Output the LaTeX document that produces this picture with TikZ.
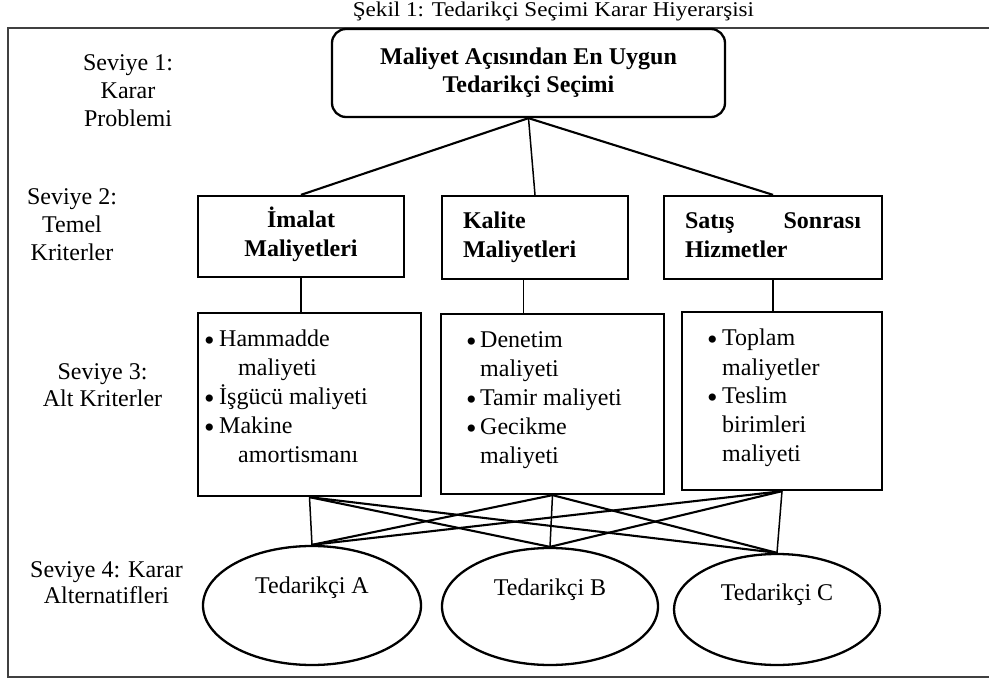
\documentclass[tikz,border=0pt]{standalone}
\usepackage{fontspec}
\setmainfont{Liberation Serif}
\usetikzlibrary{shapes.geometric,calc}
\newcommand{\bul}[1]{\makebox[#1][l]{\raisebox{-3.5pt}{\fontsize{30}{29}\selectfont\textbullet}}}
\begin{document}
\begin{tikzpicture}[x=1pt,y=-1pt,
  every node/.style={font=\fontsize{24}{29}\selectfont},
  lbl/.style={anchor=base, inner sep=0pt},
  topbox/.style={draw, line width=2.3pt, rounded corners=14pt, align=center,
     font=\bfseries\fontsize{24}{28}\selectfont, minimum width=393pt, minimum height=88pt},
  crit/.style={draw, line width=2.3pt, inner xsep=21pt, inner ysep=0pt,
     font=\bfseries\fontsize{24}{29}\selectfont},
  subbox/.style={draw, line width=2.3pt, inner sep=0pt},
  listtext/.style={anchor=base west, inner sep=0pt},
  alt/.style={draw, ellipse, line width=2.3pt, inner sep=0pt, text height=16pt},
  thinline/.style={line width=1.5pt},
  thickline/.style={line width=2.1pt}]
\useasboundingbox (0,0) rectangle (989,679);
\clip (0,0) rectangle (989,679);

% frame and title
\draw[line width=2.4pt, black!75] (8,28) rectangle (1010,677);
\node[lbl, font=\fontsize{21}{24}\selectfont] (title) at (553.5,17)
  {\scalebox{1.1}[1]{Şekil 1: Tedarikçi Seçimi Karar Hiyerarşisi}};

% level labels
\node[lbl, font=\fontsize{24}{28}\selectfont] (l1) at (128,71)
  {\begin{tabular}[t]{@{}c@{}}Seviye 1:\\Karar\\Problemi\end{tabular}};
\node[lbl, font=\fontsize{24}{28}\selectfont] (l2) at (72,205)
  {\begin{tabular}[t]{@{}c@{}}Seviye 2:\\Temel\\Kriterler\end{tabular}};
\node[lbl, font=\fontsize{24}{27}\selectfont] (l3) at (102.5,380)
  {\begin{tabular}[t]{@{}c@{}}Seviye 3:\\Alt Kriterler\end{tabular}};
\node[lbl, font=\fontsize{24}{26}\selectfont] (l4) at (106.5,577)
  {\begin{tabular}[t]{@{}c@{}}Seviye 4: Karar\\Alternatifleri\end{tabular}};

% level 1
\node[topbox] (top) at (528.5,73) {\strut Maliyet Açısından En Uygun\\Tedarikçi Seçimi\strut};

% level 2
\node[crit, align=center, text width=164pt, minimum height=81pt] (k1) at (301,236.5)
  {\strut İmalat\\Maliyetleri\strut};
\node[crit, align=left, text width=144pt, minimum height=83pt] (k2) at (535,237.5)
  {\strut Kalite\\Maliyetleri\strut};
\node[crit, align=left, text width=176pt, minimum height=83pt] (k3) at (773,237.5)
  {\strut Satış\hfill Sonrası\\Hizmetler\strut};

% level 3
\node[subbox, minimum width=223pt, minimum height=183pt] (s1) at (309.5,404.5) {};
\node[subbox, minimum width=223pt, minimum height=180pt] (s2) at (552.5,404) {};
\node[subbox, minimum width=200pt, minimum height=178pt] (s3) at (782,401) {};

\node[listtext] (t1) at (204,347)
  {\begin{tabular}[t]{@{}l@{}l@{}}
   \bul{15pt} & Hammadde\\
    & \hspace{19pt}maliyeti\\
   \bul{15pt} & İşgücü maliyeti\\
   \bul{15pt} & Makine\\
    & \hspace{19pt}amortismanı
   \end{tabular}};
\node[listtext] (t2) at (466,348)
  {\begin{tabular}[t]{@{}l@{}l@{}}
   \bul{14pt} & Denetim\\
    & maliyeti\\
   \bul{14pt} & Tamir maliyeti\\
   \bul{14pt} & Gecikme\\
    & maliyeti
   \end{tabular}};
\node[listtext] (t3) at (707,346)
  {\begin{tabular}[t]{@{}l@{}l@{}}
   \bul{15pt} & Toplam\\
    & maliyetler\\
   \bul{15pt} & Teslim\\
    & birimleri\\
    & maliyeti
   \end{tabular}};

% level 4
\node[alt, minimum width=218pt, minimum height=119pt, text depth=41pt] (A) at (312,605.5) {Tedarikçi A};
\node[alt, minimum width=216pt, minimum height=117pt, text depth=39pt] (B) at (550,606.5) {Tedarikçi B};
\node[alt, minimum width=206pt, minimum height=111pt, text depth=35pt] (C) at (777,609.5) {Tedarikçi C};

% connectors level 1 -> level 2
\draw[thickline] (top.south) -- (k1.north);
\draw[thinline] (top.south) -- (k2.north);
\draw[thickline] (top.south) -- (k3.north);

% level 2 -> level 3
\draw[thinline] (k1.south) -- (k1.south |- s1.north);
\draw[thinline] ([xshift=-11.5pt]k2.south) -- ([xshift=-11.5pt]k2.south |- s2.north);
\draw[thinline] (k3.south) -- (k3.south |- s3.north);

% level 3 -> level 4
\draw[thinline] (s1.south) -- (A.north);
\draw[thickline] (s1.south) -- (B.north);
\draw[thickline] (s1.south) -- (C.north);
\draw[thickline] (s2.south) -- (A.north);
\draw[thinline] (s2.south) -- (B.north);
\draw[thickline] (s2.south) -- (C.north);
\draw[thickline] (s3.south) -- (A.north);
\draw[thickline] (s3.south) -- (B.north);
\draw[thinline] (s3.south) -- (C.north);
\end{tikzpicture}
\end{document}
